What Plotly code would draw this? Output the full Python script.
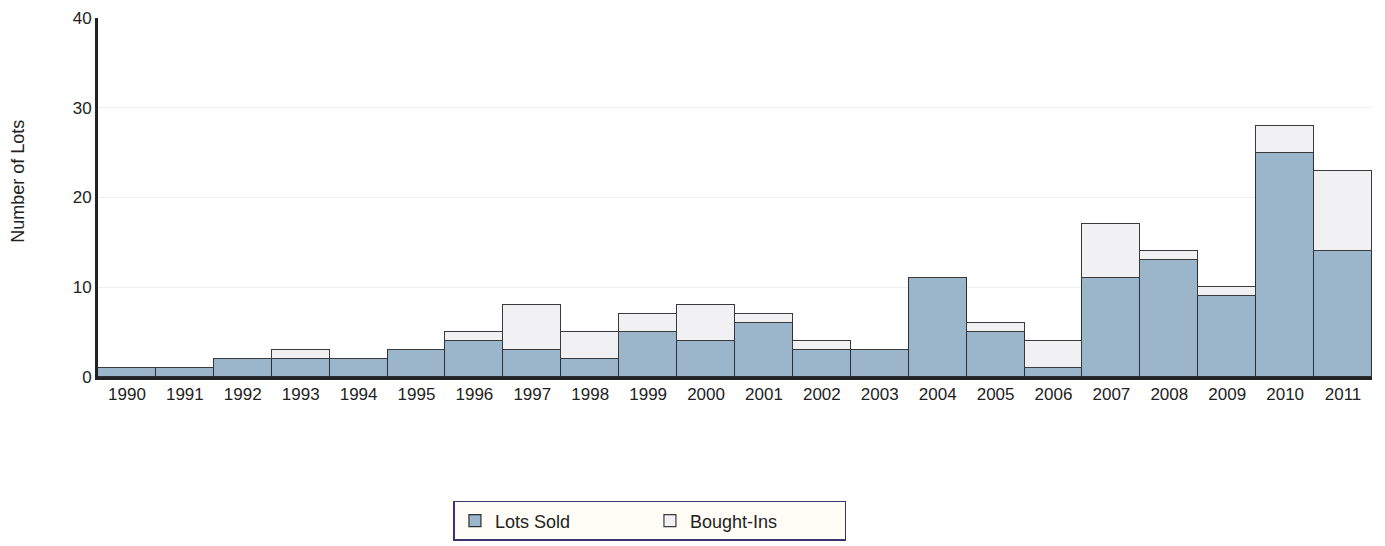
import plotly.graph_objects as go

years = [str(y) for y in range(1990, 2012)]
lots_sold = [1, 1, 2, 2, 2, 3, 4, 3, 2, 5, 4, 6, 3, 3, 11, 5, 1, 11, 13, 9, 25, 14]
bought_ins = [0, 0, 0, 1, 0, 0, 1, 5, 3, 2, 4, 1, 1, 0, 0, 1, 3, 6, 1, 1, 3, 9]
y_title = "Number of Lots"

fig = go.Figure()
fig.add_trace(go.Bar(x=years, y=lots_sold, name="Lots Sold",
                     marker=dict(color="#9BB5CA", line=dict(color="#2B2F36", width=1.2))))
fig.add_trace(go.Bar(x=years, y=bought_ins, name="Bought-Ins",
                     marker=dict(color="#F1F1F3", line=dict(color="#3A3A3A", width=1.2))))

fig.update_layout(
    barmode="stack", bargap=0,
    width=1385, height=546,
    margin=dict(l=90, r=21, t=10, b=177),
    plot_bgcolor="white", paper_bgcolor="white",
    font=dict(family="Liberation Sans, Arial, sans-serif", size=17, color="#222"),
    legend=dict(orientation="h", x=0.279, y=-0.345, xanchor="left", yanchor="top",
                bgcolor="#FFFDF5", bordercolor="#3A3470", borderwidth=1.5,
                entrywidth=150, font=dict(size=18), traceorder="normal"),
    annotations=[dict(text=y_title, xref="paper", yref="paper", x=-0.063, y=0.546,
                      xanchor="center", yanchor="middle", textangle=-90, showarrow=False,
                      font=dict(size=18, color="#222"))],
)
fig.update_yaxes(range=[0, 40], tickvals=[0, 10, 20, 30, 40], showgrid=True,
                 gridcolor="#EEEEEE", showline=True, linecolor="#222", linewidth=3,
                 ticks="", automargin=False, zeroline=False)
fig.update_xaxes(showline=True, linecolor="#222", linewidth=3, ticks="", showgrid=False,
                 automargin=False)

fig.write_html("out.html")
